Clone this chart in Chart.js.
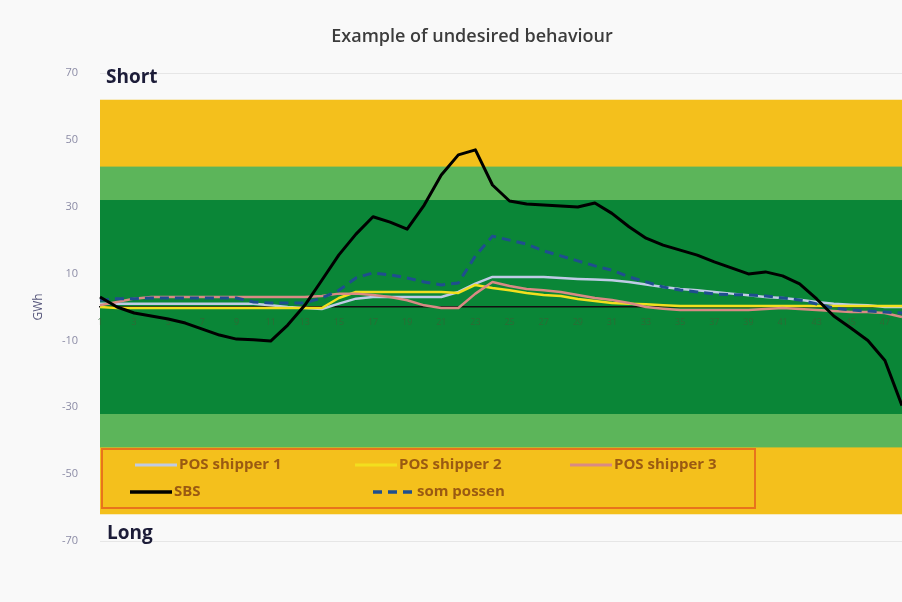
<!DOCTYPE html>
<html>
<head>
<meta charset="utf-8">
<script src="https://cdn.jsdelivr.net/npm/chart.js@4"></script>
<style>
  html, body { margin: 0; padding: 0; background: #f9f9f9; overflow: hidden; }
  canvas { display: block; }
</style>
</head>
<body>
<canvas id="chart" width="902" height="602"></canvas>
<script>
const hours = ["1","2","3","4","5","6","7","8","9","10","11","12","13","14","15","16",
  "17","18","19","20","21","22","23","24","25","26","27","28","29","30","31","32",
  "33","34","35","36","37","38","39","40","41","42","43","44","45","46","47","48"];

const posShipper1 = [1, 1, 1, 1, 1, 1, 1, 1, 1, 1, 0.5, 0, -0.3, -0.6, 1, 2.5,
  3, 3, 3, 3, 3, 4.5, 7, 9, 9, 9, 9, 8.7, 8.4, 8.2, 8, 7.5,
  6.7, 6, 5.4, 5, 4.5, 4, 3.5, 3, 2.7, 2.2, 1.5, 1, 0.7, 0.5, 0, 0];

const posShipper2 = [0, -0.3, -0.3, -0.3, -0.3, -0.3, -0.3, -0.3, -0.3, -0.3, -0.3, -0.3, -0.3, -0.3, 2.7, 4.5,
  4.5, 4.5, 4.5, 4.5, 4.5, 4.2, 6.6, 5.7, 5, 4.2, 3.6, 3.3, 2.4, 1.8, 1.2, 1,
  0.8, 0.5, 0.3, 0.3, 0.3, 0.3, 0.3, 0.3, 0.3, 0.3, 0.3, 0.3, 0.3, 0.3, 0.3, 0.3];

const posShipper3 = [0.5, 1.5, 2.5, 3, 3, 3, 3, 3, 3, 3, 3, 3, 3, 3.3, 4, 4,
  3.6, 3, 2, 0.5, -0.3, -0.3, 4, 7.5, 6.3, 5.4, 5, 4.5, 3.6, 2.7, 2.1, 1.2,
  0, -0.5, -0.9, -0.9, -0.9, -0.9, -0.9, -0.6, -0.3, -0.6, -0.9, -1.2, -1.5, -1.5, -1.8, -3];

const sbs = [3, 0, -1.8, -2.7, -3.6, -4.8, -6.6, -8.4, -9.6, -9.8, -10.2, -5.4, 0.5, 8, 15.6, 21.8,
  27, 25.4, 23.3, 30.5, 39.5, 45.5, 47, 36.5, 31.7, 30.8, 30.5, 30.2, 29.9, 31.1, 28, 24,
  20.6, 18.5, 17, 15.5, 13.5, 11.7, 9.9, 10.5, 9.3, 6.9, 2.4, -2.7, -6.3, -10, -16, -29.5];

const somPossen = [2, 2.5, 2.5, 2.7, 2.7, 2.7, 2.7, 2.7, 2.7, 1.5, 1.2, 1.2, 1.2, 2.7, 5, 8.7,
  10.2, 9.6, 8.7, 7.5, 6.6, 7.2, 15.3, 21.2, 20, 18.8, 16.8, 15.3, 13.8, 12.3, 11, 9,
  7.5, 6, 5.1, 4.5, 3.9, 3.7, 3.6, 3.3, 2.7, 2.1, 0.9, -0.3, -0.9, -1.2, -1.5, -1.8];

// tolerance limits (GWh): outer, middle, inner
const outerLimit = 62;
const middleLimit = 42;
const innerLimit = 32;

const yTicks = [-70, -50, -30, -10, 10, 30, 50, 70];


// coloured zones behind the lines + title and Short/Long labels
const backdrop = {
  id: "backdrop",
  beforeDraw(chart) {
    const { ctx, chartArea, scales: { y } } = chart;
    const w = chartArea.right - chartArea.left;
    const zones = [
      [outerLimit, "#f4c01c"],
      [middleLimit, "#5cb55a"],
      [innerLimit, "#0a8637"]
    ];
    ctx.save();
    zones.forEach(([lim, color]) => {
      const top = y.getPixelForValue(lim);
      const bottom = y.getPixelForValue(-lim);
      ctx.fillStyle = color;
      ctx.fillRect(chartArea.left, top, w, bottom - top);
    });
    ctx.restore();
  },
  afterDraw(chart) {
    const { ctx, chartArea, scales: { y } } = chart;
    ctx.save();
    ctx.fillStyle = "#3c3c3c";
    ctx.font = "600 18px 'Open Sans'";
    ctx.textAlign = "center";
    ctx.textBaseline = "middle";
    ctx.fillText("Example of undesired behaviour", 472, 37);

    ctx.fillStyle = "#1c1c38";
    ctx.font = "bold 19px 'Open Sans'";
    ctx.textAlign = "left";
    ctx.fillText("Short", chartArea.left + 6, y.getPixelForValue(70) + 5);
    ctx.fillText("Long", chartArea.left + 7, y.getPixelForValue(-70) - 7);
    ctx.restore();
  }
};


// legend box sitting in the lower yellow zone
const boxLegend = {
  id: "boxLegend",
  afterDraw(chart) {
    const { ctx, chartArea } = chart;
    const ds = chart.data.datasets;
    const left = chartArea.left + 2;
    const top = 449;
    ctx.save();
    ctx.strokeStyle = "#e8731c";
    ctx.lineWidth = 2;
    ctx.strokeRect(left, top, 653, 59);

    const slots = [
      { x: 135, y: 465 }, { x: 355, y: 465 }, { x: 570, y: 465 },
      { x: 130, y: 492 }, { x: 373, y: 492 }
    ];
    ctx.font = "bold 15px 'Open Sans'";
    ctx.textBaseline = "middle";
    ctx.textAlign = "left";
    ds.forEach((d, i) => {
      const s = slots[i];
      ctx.strokeStyle = d.borderColor;
      ctx.lineWidth = d.borderWidth + 0.5;
      ctx.setLineDash(d.borderDash || []);
      ctx.beginPath();
      ctx.moveTo(s.x, s.y);
      ctx.lineTo(s.x + 42, s.y);
      ctx.stroke();
      ctx.setLineDash([]);
      ctx.fillStyle = "#9a5a12";
      ctx.fillText(d.label, s.x + 44, s.y);
    });
    ctx.restore();
  }
};


const ctx = document.getElementById("chart").getContext("2d");

new Chart(ctx, {
  type: "line",
  data: {
    labels: hours,
    datasets: [
      { label: "POS shipper 1", data: posShipper1, borderColor: "#bfcbe6", borderWidth: 2.5, order: 4 },
      { label: "POS shipper 2", data: posShipper2, borderColor: "#f2df1e", borderWidth: 2.5, order: 3 },
      { label: "POS shipper 3", data: posShipper3, borderColor: "#d98a84", borderWidth: 2.5, order: 2 },
      { label: "SBS", data: sbs, borderColor: "#000000", borderWidth: 3, order: 0 },
      { label: "som possen", data: somPossen, borderColor: "#1f4e8e", borderWidth: 3, borderDash: [9, 6], order: 1 }
    ]
  },
  options: {
    responsive: false,
    animation: false,
    layout: { padding: { top: 73, bottom: 61, left: 0, right: 0 } },
    elements: {
      point: { radius: 0 },
      line: { tension: 0, fill: false, borderCapStyle: "butt", borderJoinStyle: "round" }
    },
    plugins: {
      legend: { display: false },
      tooltip: { enabled: false }
    },
    scales: {
      x: {
        position: { y: 0 },
        offset: false,
        grid: { display: false, drawTicks: false },
        border: { display: true, color: "#111111", width: 1.5 },
        ticks: {
          autoSkip: false,
          maxRotation: 0,
          padding: 10,
          color: "#2f6a35",
          font: { family: "Open Sans", size: 9 },
          callback: function (val, i) { return i % 2 === 0 ? hours[i] : ""; }
        },
        afterFit(scale) {
          scale.height = 0;
          scale.paddingLeft = 0;
          scale.paddingRight = 0;
        }
      },
      y: {
        min: -70,
        max: 70,
        afterBuildTicks(scale) {
          scale.ticks = yTicks.map(v => ({ value: v }));
        },
        border: { display: false },
        grid: {
          drawTicks: false,
          color: c => Math.abs(c.tick.value) > outerLimit ? "#e6e6e6" : "rgba(0,0,0,0)"
        },
        ticks: {
          padding: 22,
          color: "#8c8ca6",
          font: { family: "Open Sans", size: 11 }
        },
        title: {
          display: true,
          text: "GWh",
          color: "#55557a",
          font: { family: "Open Sans", size: 12 },
          padding: { top: 31, bottom: 0 }
        },
        afterFit(scale) {
          scale.width = 100;
        }
      }
    }
  },
  plugins: [backdrop, boxLegend]
});
</script>
</body>
</html>
